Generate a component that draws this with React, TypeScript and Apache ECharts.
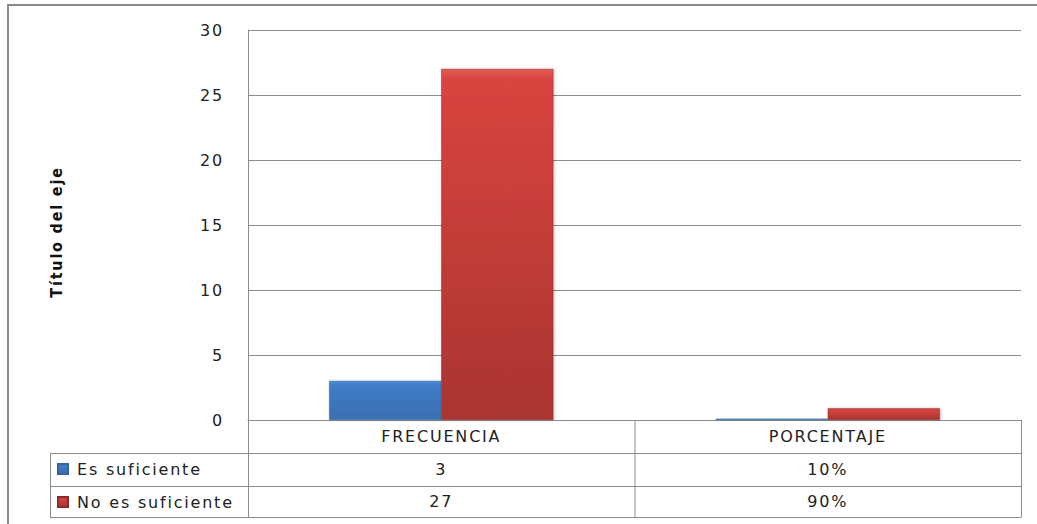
import React, { useEffect, useRef } from "react";
import * as echarts from "echarts";

// Data
const categories = ["FRECUENCIA", "PORCENTAJE"];
const seriesNames = ["Es suficiente", "No es suficiente"];
const esSuficiente = [3, 0.1];
const noEsSuficiente = [27, 0.9];
const yMin = 0;
const yMax = 30;
const yInterval = 5;

// Table cell text: the frequency column shows raw counts, the percentage column shows %.
const formatCell = (v: number, col: number) =>
  col === 1 ? `${Math.round(v * 100)}%` : String(v);

// Layout (pixels)
const W = 1037;
const H = 524;
const PLOT_L = 248;
const PLOT_R = 1021;
const PLOT_T = 30;
const PLOT_B = 420;
const ROW_H = 33;
const TABLE_L = 50;
const FONT = "'DejaVu Sans', 'Open Sans', sans-serif";
const NARROW = "'DejaVu Sans Condensed', 'Liberation Sans Narrow', 'DejaVu Sans', sans-serif";
const LINE = "#8c8c8c";
const TEXT = "#222";

const blueFill = new echarts.graphic.LinearGradient(0, 0, 0, 1, [
  { offset: 0, color: "#4a8ad6" },
  { offset: 0.12, color: "#3f7dc8" },
  { offset: 1, color: "#3a6eb0" },
]);
const redFill = new echarts.graphic.LinearGradient(0, 0, 0, 1, [
  { offset: 0, color: "#e35a56" },
  { offset: 0.03, color: "#d9443f" },
  { offset: 1, color: "#a93431" },
]);

export default function App() {
  const ref = useRef<HTMLDivElement>(null);

  useEffect(() => {
    if (!ref.current) return;
    const chart = echarts.init(ref.current, null, { renderer: "svg" });

    const row1Y = PLOT_B + ROW_H;
    const row2Y = PLOT_B + ROW_H * 2;
    const row3Y = PLOT_B + ROW_H * 3 - 2;
    const midX = (PLOT_L + PLOT_R) / 2;

    const hLine = (x1: number, x2: number, y: number) => ({
      type: "line",
      shape: { x1, y1: y + 0.5, x2, y2: y + 0.5 },
      style: { stroke: LINE, lineWidth: 1 },
      silent: true,
    });
    const vLine = (x: number, y1: number, y2: number) => ({
      type: "line",
      shape: { x1: x + 0.5, y1, x2: x + 0.5, y2 },
      style: { stroke: LINE, lineWidth: 1 },
      silent: true,
    });

    const cellLabel = (margin: number) => ({
      margin,
      fontFamily: FONT,
      fontSize: 16,
      color: TEXT,
    });

    chart.setOption({
      animation: false,
      backgroundColor: "#ffffff",
      grid: {
        left: PLOT_L,
        right: W - PLOT_R,
        top: PLOT_T,
        bottom: H - PLOT_B,
      },
      legend: {
        orient: "vertical",
        left: 57,
        top: row1Y + 6,
        padding: 0,
        itemGap: 13,
        itemWidth: 10,
        itemHeight: 10,
        icon: "rect",
        selectedMode: false,
        textStyle: {
          fontFamily: FONT,
          fontSize: 16,
          color: TEXT,
          lineHeight: 20,
          padding: [0, 0, 0, 4],
        },
        data: seriesNames,
      },
      xAxis: [
        {
          type: "category",
          data: categories,
          axisLine: { show: true, lineStyle: { color: LINE } },
          axisTick: { show: false },
          axisLabel: cellLabel(8),
        },
        {
          type: "category",
          position: "bottom",
          offset: ROW_H,
          data: esSuficiente.map(formatCell),
          axisLine: { show: false },
          axisTick: { show: false },
          axisLabel: cellLabel(8),
        },
        {
          type: "category",
          position: "bottom",
          offset: ROW_H * 2,
          data: noEsSuficiente.map(formatCell),
          axisLine: { show: false },
          axisTick: { show: false },
          axisLabel: cellLabel(7),
        },
      ],
      yAxis: {
        type: "value",
        min: yMin,
        max: yMax,
        interval: yInterval,
        axisLine: { show: true, lineStyle: { color: LINE } },
        axisTick: { show: false },
        axisLabel: { margin: 24, fontFamily: FONT, fontSize: 16, color: TEXT },
        splitLine: { show: true, lineStyle: { color: LINE, width: 1 } },
      },
      series: [
        {
          name: seriesNames[0],
          type: "bar",
          xAxisIndex: 0,
          data: esSuficiente,
          barGap: "0%",
          barCategoryGap: "42%",
          itemStyle: {
            color: blueFill,
            borderColor: "#33649f",
            borderWidth: 0.5,
            shadowColor: "rgba(0,0,0,0.25)",
            shadowBlur: 3,
            shadowOffsetX: 1,
          },
        },
        {
          name: seriesNames[1],
          type: "bar",
          xAxisIndex: 0,
          data: noEsSuficiente,
          barGap: "0%",
          barCategoryGap: "42%",
          itemStyle: {
            color: redFill,
            borderColor: "#8f2b28",
            borderWidth: 0.5,
            shadowColor: "rgba(0,0,0,0.25)",
            shadowBlur: 3,
            shadowOffsetX: 1,
          },
        },
      ],
      graphic: [
        // outer chart frame
        {
          type: "rect",
          shape: { x: 8, y: 5, width: W + 20, height: H + 20 },
          style: { fill: "none", stroke: "#8a8a8a", lineWidth: 2 },
          silent: true,
        },
        // axis title
        {
          type: "text",
          x: 56,
          y: 232,
          rotation: Math.PI / 2,
          style: {
            text: "Título del eje",
            font: `bold 16px ${NARROW}`,
            fill: "#111",
            align: "center",
            verticalAlign: "middle",
          },
          silent: true,
        },
        // data table grid
        vLine(PLOT_L, PLOT_B, row3Y),
        vLine(midX, PLOT_B, row3Y),
        vLine(PLOT_R, PLOT_B, row3Y),
        vLine(TABLE_L, row1Y, row3Y),
        hLine(TABLE_L, PLOT_R, row1Y),
        hLine(TABLE_L, PLOT_R, row2Y),
        hLine(TABLE_L, PLOT_R + 0.5, row3Y),
      ],
    });

    return () => chart.dispose();
  }, []);

  return (
    <>
      <style>{`.chart-box svg text { letter-spacing: 1.8px; }`}</style>
      <div
        ref={ref}
        className="chart-box"
        style={{ position: "fixed", left: 0, top: 0, width: W, height: H, background: "#fff" }}
      />
    </>
  );
}
